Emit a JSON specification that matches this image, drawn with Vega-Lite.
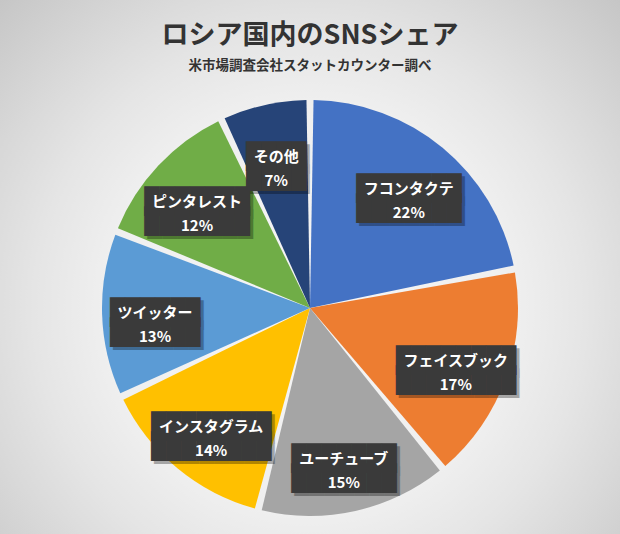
{
  "$schema": "https://vega.github.io/schema/vega-lite/v6.json",
  "width": 620,
  "height": 452,
  "autosize": {"type": "none"},
  "padding": {"top": 82, "left": 0, "right": 0, "bottom": 0},
  "background": "#e6e6e6",
  "title": {
    "text": "ロシア国内のSNSシェア",
    "subtitle": "米市場調査会社スタットカウンター調べ",
    "frame": "group",
    "font": "Noto Sans CJK JP",
    "fontSize": 27,
    "fontWeight": "bold",
    "color": "#333333",
    "subtitleFont": "Noto Sans CJK JP",
    "subtitleFontSize": 13.5,
    "subtitleFontWeight": "bold",
    "subtitleColor": "#333333",
    "subtitlePadding": 9,
    "offset": -225,
    "anchor": "middle"
  },
  "layer": [
    {
      "data": {"values": [{}]},
      "mark": {
        "type": "arc",
        "theta": 0,
        "theta2": 6.2832,
        "radius": 460,
        "fill": {
          "gradient": "radial",
          "x1": 0.5, "y1": 0.5, "r1": 0,
          "x2": 0.5, "y2": 0.5, "r2": 0.5,
          "stops": [
            {"offset": 0, "color": "#f6f6f6"},
            {"offset": 0.45, "color": "#efefef"},
            {"offset": 0.6, "color": "#e5e5e5"},
            {"offset": 0.75, "color": "#d8d8d8"},
            {"offset": 0.95, "color": "#c6c6c6"},
            {"offset": 1, "color": "#c2c2c2"}
          ]
        }
      },
      "encoding": {}
    },
    {
      "data": {
        "values": [
          {"name": "フコンタクテ", "value": 22, "order": 1},
          {"name": "フェイスブック", "value": 17, "order": 2},
          {"name": "ユーチューブ", "value": 15, "order": 3},
          {"name": "インスタグラム", "value": 14, "order": 4},
          {"name": "ツイッター", "value": 13, "order": 5},
          {"name": "ピンタレスト", "value": 12, "order": 6},
          {"name": "その他", "value": 7, "order": 7}
        ]
      },
      "transform": [
        {"calculate": "datum.name + '|' + datum.value + '%'", "as": "label"},
        {"calculate": "pad('', length(datum.name) + 1, '█') + '|' + pad('', length(datum.name) + 1, '█')", "as": "box"}
      ],
      "encoding": {
        "theta": {"field": "value", "type": "quantitative", "stack": true},
        "order": {"field": "order", "type": "quantitative"}
      },
      "layer": [
        {
          "mark": {"type": "arc", "radius": 208, "padAngle": 0.034},
          "encoding": {
            "color": {
              "field": "name",
              "type": "nominal",
              "legend": null,
              "scale": {
                "domain": ["フコンタクテ", "フェイスブック", "ユーチューブ", "インスタグラム", "ツイッター", "ピンタレスト", "その他"],
                "range": ["#4472c4", "#ed7d31", "#a5a5a5", "#ffc000", "#5b9bd5", "#70ad47", "#264478"]
              }
            }
          }
        },
        {
          "mark": {"type": "text", "radius": 155, "font": "DejaVu Sans Mono", "fontSize": 25, "lineHeight": 20, "lineBreak": "|", "color": "#000000", "opacity": 0.3, "dx": 3, "dy": 3, "baseline": "middle"},
          "encoding": {"text": {"field": "box", "type": "nominal"}}
        },
        {
          "mark": {"type": "text", "radius": 155, "font": "DejaVu Sans Mono", "fontSize": 25, "lineHeight": 20, "lineBreak": "|", "color": "#3a3a3a", "baseline": "middle"},
          "encoding": {"text": {"field": "box", "type": "nominal"}}
        },
        {
          "mark": {"type": "text", "radius": 155, "font": "Noto Sans CJK JP", "fontSize": 15, "fontWeight": "bold", "lineHeight": 24, "lineBreak": "|", "color": "#ffffff", "baseline": "middle"},
          "encoding": {"text": {"field": "label", "type": "nominal"}}
        }
      ]
    }
  ]
}
